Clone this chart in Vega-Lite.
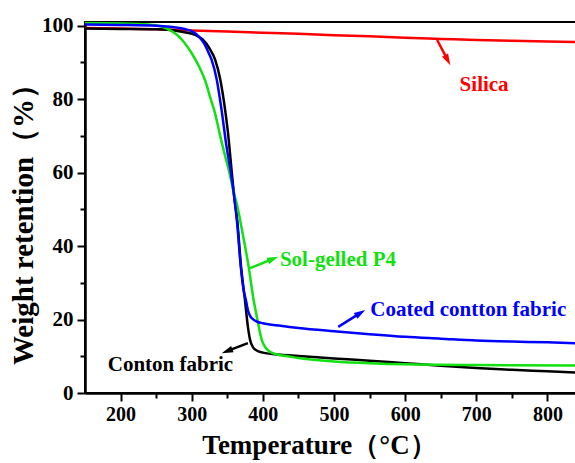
{
  "$schema": "https://vega.github.io/schema/vega-lite/v6.json",
  "width": 498,
  "height": 371,
  "autosize": "none",
  "padding": {"left": 85, "top": 22, "right": 0, "bottom": 70},
  "view": {"stroke": "black", "strokeWidth": 2},
  "datasets": {
    "curves": [
      {"s": "Silica", "T": 150, "W": 99.4}, {"s": "Silica", "T": 200, "W": 99.2}, {"s": "Silica", "T": 250, "W": 99.0}, {"s": "Silica", "T": 300, "W": 98.7}, {"s": "Silica", "T": 350, "W": 98.4}, {"s": "Silica", "T": 400, "W": 98.1}, {"s": "Silica", "T": 450, "W": 97.8}, {"s": "Silica", "T": 500, "W": 97.4}, {"s": "Silica", "T": 550, "W": 97.1}, {"s": "Silica", "T": 600, "W": 96.7}, {"s": "Silica", "T": 650, "W": 96.4}, {"s": "Silica", "T": 700, "W": 96.1}, {"s": "Silica", "T": 750, "W": 95.9}, {"s": "Silica", "T": 800, "W": 95.7}, {"s": "Silica", "T": 850, "W": 95.5},
      {"s": "Cotton", "T": 150, "W": 99.2}, {"s": "Cotton", "T": 200, "W": 99.1}, {"s": "Cotton", "T": 250, "W": 99.0}, {"s": "Cotton", "T": 270, "W": 98.8}, {"s": "Cotton", "T": 290, "W": 98.2}, {"s": "Cotton", "T": 305, "W": 97.5}, {"s": "Cotton", "T": 315, "W": 96.3}, {"s": "Cotton", "T": 325, "W": 93.8}, {"s": "Cotton", "T": 333, "W": 90.7}, {"s": "Cotton", "T": 340, "W": 85.5}, {"s": "Cotton", "T": 347, "W": 77}, {"s": "Cotton", "T": 352, "W": 69}, {"s": "Cotton", "T": 356, "W": 60.7}, {"s": "Cotton", "T": 360, "W": 53}, {"s": "Cotton", "T": 364, "W": 47}, {"s": "Cotton", "T": 369, "W": 35}, {"s": "Cotton", "T": 375, "W": 25}, {"s": "Cotton", "T": 379, "W": 18}, {"s": "Cotton", "T": 382, "W": 14.5}, {"s": "Cotton", "T": 386, "W": 12.5}, {"s": "Cotton", "T": 392, "W": 11.5}, {"s": "Cotton", "T": 400, "W": 11.0}, {"s": "Cotton", "T": 425, "W": 10.4}, {"s": "Cotton", "T": 450, "W": 10.1}, {"s": "Cotton", "T": 500, "W": 9.4}, {"s": "Cotton", "T": 550, "W": 8.8}, {"s": "Cotton", "T": 600, "W": 8.1}, {"s": "Cotton", "T": 650, "W": 7.4}, {"s": "Cotton", "T": 700, "W": 6.8}, {"s": "Cotton", "T": 750, "W": 6.3}, {"s": "Cotton", "T": 800, "W": 5.9}, {"s": "Cotton", "T": 850, "W": 5.5},
      {"s": "P4", "T": 150, "W": 100.7}, {"s": "P4", "T": 200, "W": 100.6}, {"s": "P4", "T": 240, "W": 100.3}, {"s": "P4", "T": 255, "W": 99.9}, {"s": "P4", "T": 265, "W": 99.2}, {"s": "P4", "T": 280, "W": 97.4}, {"s": "P4", "T": 290, "W": 95.3}, {"s": "P4", "T": 300, "W": 92.5}, {"s": "P4", "T": 310, "W": 89}, {"s": "P4", "T": 319, "W": 85}, {"s": "P4", "T": 326, "W": 80.5}, {"s": "P4", "T": 333, "W": 76}, {"s": "P4", "T": 340, "W": 70}, {"s": "P4", "T": 347, "W": 64.5}, {"s": "P4", "T": 353, "W": 60}, {"s": "P4", "T": 358, "W": 55.5}, {"s": "P4", "T": 364, "W": 51}, {"s": "P4", "T": 372, "W": 43}, {"s": "P4", "T": 380, "W": 34.4}, {"s": "P4", "T": 387, "W": 25.3}, {"s": "P4", "T": 391.5, "W": 20.8}, {"s": "P4", "T": 398.5, "W": 14.4}, {"s": "P4", "T": 404, "W": 12.3}, {"s": "P4", "T": 410, "W": 11.2}, {"s": "P4", "T": 420, "W": 10.5}, {"s": "P4", "T": 435, "W": 10.0}, {"s": "P4", "T": 450, "W": 9.5}, {"s": "P4", "T": 500, "W": 8.6}, {"s": "P4", "T": 550, "W": 8.1}, {"s": "P4", "T": 600, "W": 7.8}, {"s": "P4", "T": 700, "W": 7.6}, {"s": "P4", "T": 850, "W": 7.5},
      {"s": "Coated", "T": 150, "W": 100.3}, {"s": "Coated", "T": 200, "W": 100.2}, {"s": "Coated", "T": 250, "W": 100.0}, {"s": "Coated", "T": 270, "W": 99.7}, {"s": "Coated", "T": 290, "W": 99.1}, {"s": "Coated", "T": 300, "W": 98.5}, {"s": "Coated", "T": 310, "W": 97.0}, {"s": "Coated", "T": 318, "W": 95}, {"s": "Coated", "T": 324, "W": 92.5}, {"s": "Coated", "T": 328, "W": 90.7}, {"s": "Coated", "T": 335, "W": 85.5}, {"s": "Coated", "T": 342, "W": 77}, {"s": "Coated", "T": 349, "W": 67}, {"s": "Coated", "T": 355, "W": 60}, {"s": "Coated", "T": 360, "W": 53}, {"s": "Coated", "T": 364, "W": 46}, {"s": "Coated", "T": 369, "W": 34.4}, {"s": "Coated", "T": 373, "W": 28}, {"s": "Coated", "T": 376.5, "W": 25}, {"s": "Coated", "T": 379, "W": 22.5}, {"s": "Coated", "T": 382, "W": 21}, {"s": "Coated", "T": 386, "W": 20.1}, {"s": "Coated", "T": 392, "W": 19.4}, {"s": "Coated", "T": 400, "W": 19.0}, {"s": "Coated", "T": 425, "W": 18.3}, {"s": "Coated", "T": 450, "W": 17.7}, {"s": "Coated", "T": 500, "W": 16.8}, {"s": "Coated", "T": 550, "W": 16.0}, {"s": "Coated", "T": 600, "W": 15.3}, {"s": "Coated", "T": 650, "W": 14.8}, {"s": "Coated", "T": 700, "W": 14.3}, {"s": "Coated", "T": 750, "W": 14.0}, {"s": "Coated", "T": 800, "W": 13.8}, {"s": "Coated", "T": 850, "W": 13.5}
    ],
    "arrows": [
      {"n": "Silica", "T1": 645, "W1": 96.1, "T2": 659.8, "W2": 90.6},
      {"n": "P4", "T1": 382, "W1": 34.0, "T2": 414.3, "W2": 36.5},
      {"n": "Coated", "T1": 506, "W1": 18.0, "T2": 537.2, "W2": 21.8},
      {"n": "Cotton", "T1": 379, "W1": 13.6, "T2": 349.6, "W2": 11.4}
    ],
    "labels": [
      {"n": "Silica", "T": 711, "W": 83.9, "text": "Silica", "al": "center"},
      {"n": "P4", "T": 424, "W": 36.2, "text": "Sol-gelled P4", "al": "left"},
      {"n": "Coated", "T": 551, "W": 22.6, "text": "Coated contton fabric", "al": "left"},
      {"n": "Cotton", "T": 182, "W": 7.6, "text": "Conton fabric", "al": "left"}
    ]
  },
  "layer": [
    {
      "data": {"name": "curves"},
      "mark": {"type": "line", "strokeWidth": 2.5, "interpolate": "monotone"},
      "encoding": {
        "x": {"field": "T", "type": "quantitative", "scale": {"domain": [150, 850], "nice": false, "zero": false},
          "axis": {"orient": "bottom", "values": [200, 300, 400, 500, 600, 700, 800], "tickSize": 8, "tickWidth": 2, "tickColor": "black", "domainColor": "black", "domainWidth": 2.5, "grid": false,
            "labelFont": "Liberation Serif", "labelFontSize": 20, "labelFontWeight": "bold", "labelColor": "black", "labelPadding": 3, "labelFlush": false,
            "title": "Temperature（°C）", "titleFont": "Liberation Serif", "titleFontSize": 27, "titleFontWeight": "bold", "titleColor": "black", "titlePadding": 8, "titleX": 234}},
        "y": {"field": "W", "type": "quantitative", "scale": {"domain": [0, 101], "nice": false},
          "axis": {"orient": "left", "values": [0, 20, 40, 60, 80, 100], "tickSize": 8, "tickWidth": 2, "tickColor": "black", "domainColor": "black", "domainWidth": 2.5, "grid": false,
            "labelFont": "Liberation Serif", "labelFontSize": 21, "labelFontWeight": "bold", "labelColor": "black", "labelPadding": 4, "labelFlush": false,
            "title": "Weight retention（%）", "titleFont": "Liberation Serif", "titleFontSize": 29, "titleFontWeight": "bold", "titleColor": "black", "titlePadding": 3, "titleY": 195}},
        "color": {"field": "s", "type": "nominal", "legend": null,
          "scale": {"domain": ["Silica", "Cotton", "P4", "Coated"], "range": ["#ff0000", "#000000", "#11e011", "#0000ff"]}}
      }
    },
    {
      "data": {"name": "arrows"},
      "mark": {"type": "rule", "strokeWidth": 2.5},
      "encoding": {
        "x": {"field": "T1", "type": "quantitative", "scale": {"domain": [150, 850], "nice": false, "zero": false},
          "axis": {"orient": "bottom", "values": [250, 350, 450, 550, 650, 750, 850], "tickSize": 5, "tickWidth": 2, "tickColor": "black", "domain": false, "labels": false, "grid": false, "title": null}},
        "y": {"field": "W1", "type": "quantitative", "scale": {"domain": [0, 101], "nice": false},
          "axis": {"orient": "left", "values": [10, 30, 50, 70, 90], "tickSize": 5, "tickWidth": 2, "tickColor": "black", "domain": false, "labels": false, "grid": false, "title": null}},
        "x2": {"field": "T2"},
        "y2": {"field": "W2"},
        "color": {"field": "n", "type": "nominal", "legend": null,
          "scale": {"domain": ["Silica", "Cotton", "P4", "Coated"], "range": ["#ff0000", "#000000", "#11e011", "#0000ff"]}}
      }
    },
    {
      "data": {"name": "arrows"},
      "transform": [{"filter": "datum.n == 'Silica'"}],
      "mark": {"type": "point", "shape": "M0,-1L0.6,1L-0.6,1Z", "filled": true, "opacity": 1, "size": 130, "angle": 152.5, "color": "#ff0000"},
      "encoding": {
        "x": {"field": "T2", "type": "quantitative", "axis": null},
        "y": {"field": "W2", "type": "quantitative", "axis": null}
      }
    },
    {
      "data": {"name": "arrows"},
      "transform": [{"filter": "datum.n == 'P4'"}],
      "mark": {"type": "point", "shape": "M0,-1L0.6,1L-0.6,1Z", "filled": true, "opacity": 1, "size": 130, "angle": 68.5, "color": "#11e011"},
      "encoding": {
        "x": {"field": "T2", "type": "quantitative", "axis": null},
        "y": {"field": "W2", "type": "quantitative", "axis": null}
      }
    },
    {
      "data": {"name": "arrows"},
      "transform": [{"filter": "datum.n == 'Coated'"}],
      "mark": {"type": "point", "shape": "M0,-1L0.6,1L-0.6,1Z", "filled": true, "opacity": 1, "size": 130, "angle": 57.8, "color": "#0000ff"},
      "encoding": {
        "x": {"field": "T2", "type": "quantitative", "axis": null},
        "y": {"field": "W2", "type": "quantitative", "axis": null}
      }
    },
    {
      "data": {"name": "arrows"},
      "transform": [{"filter": "datum.n == 'Cotton'"}],
      "mark": {"type": "point", "shape": "M0,-1L0.6,1L-0.6,1Z", "filled": true, "opacity": 1, "size": 130, "angle": 249, "color": "#000000"},
      "encoding": {
        "x": {"field": "T2", "type": "quantitative", "axis": null},
        "y": {"field": "W2", "type": "quantitative", "axis": null}
      }
    },
    {
      "data": {"name": "labels"},
      "transform": [{"filter": "datum.al == 'center'"}],
      "mark": {"type": "text", "font": "Liberation Serif", "fontSize": 21, "fontWeight": "bold", "align": "center", "baseline": "middle"},
      "encoding": {
        "x": {"field": "T", "type": "quantitative", "axis": null},
        "y": {"field": "W", "type": "quantitative", "axis": null},
        "text": {"field": "text"},
        "color": {"field": "n", "type": "nominal", "legend": null,
          "scale": {"domain": ["Silica", "Cotton", "P4", "Coated"], "range": ["#ff0000", "#000000", "#11e011", "#0000ff"]}}
      }
    },
    {
      "data": {"name": "labels"},
      "transform": [{"filter": "datum.al == 'left'"}],
      "mark": {"type": "text", "font": "Liberation Serif", "fontSize": 21, "fontWeight": "bold", "align": "left", "baseline": "middle"},
      "encoding": {
        "x": {"field": "T", "type": "quantitative", "axis": null},
        "y": {"field": "W", "type": "quantitative", "axis": null},
        "text": {"field": "text"},
        "color": {"field": "n", "type": "nominal", "legend": null,
          "scale": {"domain": ["Silica", "Cotton", "P4", "Coated"], "range": ["#ff0000", "#000000", "#11e011", "#0000ff"]}}
      }
    }
  ],
  "resolve": {"axis": {"x": "independent", "y": "independent"}}
}
